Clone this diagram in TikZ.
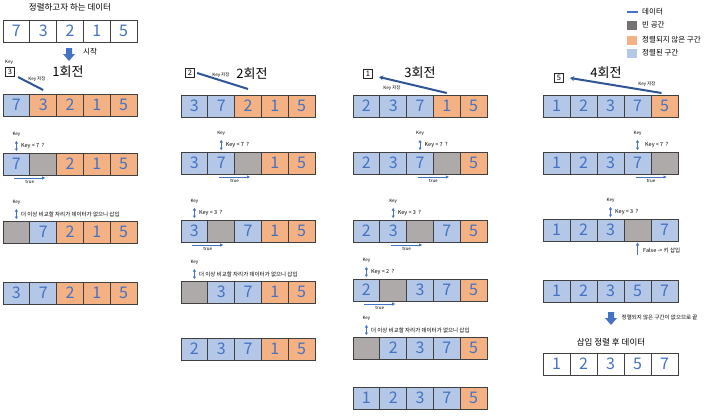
\documentclass[tikz,border=0pt]{standalone}
\usepackage{fontspec}
\setmainfont{Noto Sans CJK KR}
\usetikzlibrary{arrows.meta,calc}
\definecolor{cb}{HTML}{B4C7E7}
\definecolor{co}{HTML}{F4B183}
\definecolor{cg}{HTML}{AEAAAA}
\definecolor{cw}{HTML}{FFFFFF}
\definecolor{numblue}{HTML}{4472C4}
\definecolor{darkline}{HTML}{2F5597}
\definecolor{leggray}{HTML}{767171}
\tikzset{
  cell/.style={draw=black!75, line width=0.9pt, inner sep=0pt, outer sep=0pt,
    minimum height=22pt, anchor=north west, text=numblue,
    font=\fontsize{16}{16}\selectfont},
  keybox/.style={draw=black!85, line width=0.7pt, minimum size=9.5pt, inner sep=0pt,
    font=\fontsize{7.5}{7.5}\selectfont},
  tinylbl/.style={font=\fontsize{4.5}{5}\selectfont, inner sep=0.5pt},
  smalllbl/.style={font=\fontsize{5.5}{6}\selectfont, inner sep=0.5pt},
  roundlbl/.style={font=\fontsize{13}{13}\selectfont, inner sep=0pt},
  headlbl/.style={font=\fontsize{8.5}{9}\selectfont, inner sep=0pt},
  leglbl/.style={font=\fontsize{7.5}{8}\selectfont, inner sep=0pt, anchor=west},
  legsq/.style={minimum width=10pt, minimum height=9pt, inner sep=0pt},
  keyline/.style={draw=darkline, line width=2pt},
  keyarrow/.style={keyline, -{Stealth[length=4pt,width=5pt]}},
  thinarrow/.style={draw=numblue, line width=0.7pt, -{Triangle[length=3pt,width=3pt]}},
  dblarrow/.style={draw=numblue, line width=0.7pt,
    {Triangle[length=2.5pt,width=3pt]}-{Triangle[length=2.5pt,width=3pt]}},
}
% row of five cells: name, x0, ytop, width, spec
\newcommand\datarow[5]{%
  \foreach \cellcol/\celltxt [count=\i] in {#5}{
    \node[cell, fill=\cellcol, minimum width=#4pt] (#1-\i) at ({#2+(\i-1)*#4}, #3) {\celltxt};
  }%
}
% key comparison arrow above a cell: id, cell, text
\newcommand\keyq[3]{%
  \coordinate (#1lo) at ([yshift=2pt]#2.north);
  \coordinate (#1hi) at ([yshift=12pt]#2.north);
  \draw[dblarrow] (#1lo) -- (#1hi);
  \node[tinylbl, anchor=south] (#1key) at ([yshift=4pt]#1hi) {Key};
  \node[smalllbl, anchor=west] (#1txt) at ([xshift=4pt,yshift=7pt]#2.north) {#3};
}
% "true" arrow below two cells: id, cellA, cellB
\newcommand\truearr[3]{%
  \coordinate (#1s) at ([xshift=-2pt,yshift=-3pt]#2.south);
  \coordinate (#1e) at ([xshift=2pt,yshift=-3pt]#3.south);
  \draw[thinarrow] (#1s) -- (#1e);
  \node[tinylbl, anchor=north] (#1lbl) at ([yshift=-1.5pt]$(#1s)!0.5!(#1e)$) {true};
}
% fat downward arrow: x centre, y top
\newcommand\fatdown[2]{%
  \fill[numblue] ({#1-3},#2) -- ({#1+3},#2) -- ({#1+3},{#2+6}) -- ({#1+6},{#2+6})
    -- (#1,{#2+13}) -- ({#1-6},{#2+6}) -- ({#1-3},{#2+6}) -- cycle;
}
\newcommand\gap{\phantom{0}}
\begin{document}
\begin{tikzpicture}[x=1pt,y=-1pt]
\useasboundingbox (0,0) rectangle (720,415);
\fill[white] (0,0) rectangle (720,415);

% ---------- top data ----------
\node[headlbl] (title) at (70,7) {정렬하고자 하는 데이터};
\datarow{top}{3}{20}{26.8}{cw/7,cw/3,cw/2,cw/1,cw/5}
\fatdown{69}{48}
\node[font=\fontsize{7.5}{8}\selectfont, inner sep=0pt] (start) at (90,52) {시작};

% ---------- legend ----------
\draw[draw=numblue, line width=1.6pt] (627,12) -- (638,12);
\node[leglbl] (lg0) at (642,12) {데이터};
\node[legsq, fill=leggray] (sq1) at (632,25) {};
\node[leglbl] (lg1) at (642,25) {빈 공간};
\node[legsq, fill=co] (sq2) at (632,40) {};
\node[leglbl] (lg2) at (642,40) {정렬되지 않은 구간};
\node[legsq, fill=cb] (sq3) at (632,53) {};
\node[leglbl] (lg3) at (642,53) {정렬된 구간};

% ---------- column 1 ----------
\node[roundlbl] (rd1) at (68,72) {1회전};
\node[tinylbl] (kb1lbl) at (9,62) {Key};
\node[keybox] (kb1) at (10,72) {3};
\datarow{c1a}{3}{94}{26.8}{cb/7,co/3,co/2,co/1,co/5}
\coordinate (kl1s) at ([xshift=3pt]kb1.south east);
\coordinate (kl1e) at ([yshift=4pt]c1a-2.north);
\draw[keyline] (kl1s) -- (kl1e);
\node[tinylbl] (ks1) at (37,79) {Key 저장};

\datarow{c1b}{3}{153}{26.8}{cb/7,cg/\gap,co/2,co/1,co/5}
\keyq{q1b}{c1b-1}{Key < 7 \ ?}
\truearr{t1b}{c1b-1}{c1b-2}

\datarow{c1c}{3}{221}{26.8}{cg/\gap,cb/7,co/2,co/1,co/5}
\keyq{q1c}{c1c-1}{더 이상 비교할 자리가 데이터가 없으니 삽입}

\datarow{c1d}{3}{282}{26.8}{cb/3,cb/7,co/2,co/1,co/5}

% ---------- column 2 ----------
\node[roundlbl] (rd2) at (252,74) {2회전};
\node[keybox] (kb2) at (190,73) {2};
\datarow{c2a}{181}{95}{26.8}{cb/3,cb/7,co/2,co/1,co/5}
\coordinate (kl2s) at ([xshift=2pt]kb2.east);
\coordinate (kl2e) at ([yshift=6pt]c2a-3.north);
\draw[keyline] (kl2s) -- (kl2e);
\node[tinylbl] (ks2) at (221,75) {Key 저장};

\datarow{c2b}{181}{152}{26.8}{cb/3,cb/7,cg/\gap,co/1,co/5}
\keyq{q2b}{c2b-2}{Key < 7 \ ?}
\truearr{t2b}{c2b-2}{c2b-3}

\datarow{c2c}{181}{220}{26.8}{cb/3,cg/\gap,cb/7,co/1,co/5}
\keyq{q2c}{c2c-1}{Key < 3 \ ?}
\truearr{t2c}{c2c-1}{c2c-2}

\datarow{c2d}{181}{281}{26.8}{cg/\gap,cb/3,cb/7,co/1,co/5}
\keyq{q2d}{c2d-1}{더 이상 비교할 자리가 데이터가 없으니 삽입}

\datarow{c2e}{181}{338}{26.8}{cb/2,cb/3,cb/7,co/1,co/5}

% ---------- column 3 ----------
\node[roundlbl] (rd3) at (420,73) {3회전};
\node[keybox] (kb3) at (368,74) {1};
\datarow{c3a}{353}{95}{26.8}{cb/2,cb/3,cb/7,co/1,co/5}
\coordinate (kl3s) at ([yshift=2pt]c3a-4.north);
\coordinate (kl3e) at ([xshift=6pt,yshift=-3pt]kb3.east);
\draw[keyarrow] (kl3s) -- (kl3e);
\node[tinylbl] (ks3) at (392,88) {Key 저장};

\datarow{c3b}{353}{152}{26.8}{cb/2,cb/3,cb/7,cg/\gap,co/5}
\keyq{q3b}{c3b-3}{Key < 7 \ ?}
\truearr{t3b}{c3b-3}{c3b-4}

\datarow{c3c}{353}{220}{26.8}{cb/2,cb/3,cg/\gap,cb/7,co/5}
\keyq{q3c}{c3c-2}{Key < 3 \ ?}
\truearr{t3c}{c3c-2}{c3c-3}

\datarow{c3d}{353}{279}{26.8}{cb/2,cg/\gap,cb/3,cb/7,co/5}
\keyq{q3d}{c3d-1}{Key < 2 \ ?}
\truearr{t3d}{c3d-1}{c3d-2}

\datarow{c3e}{353}{337}{26.8}{cg/\gap,cb/2,cb/3,cb/7,co/5}
\keyq{q3e}{c3e-1}{더 이상 비교할 자리가 데이터가 없으니 삽입}

\datarow{c3f}{353}{387}{26.8}{cb/1,cb/2,cb/3,cb/7,co/5}

% ---------- column 4 ----------
\node[roundlbl] (rd4) at (606,73) {4회전};
\node[keybox] (kb4) at (559,78) {5};
\datarow{c4a}{543}{95}{27}{cb/1,cb/2,cb/3,cb/7,co/5}
\coordinate (kl4s) at ([xshift=-3pt,yshift=2pt]c4a-5.north);
\coordinate (kl4e) at ([xshift=6pt]kb4.east);
\draw[keyarrow] (kl4s) -- (kl4e);
\node[tinylbl] (ks4) at (647,84) {Key 저장};

\datarow{c4b}{543}{152}{27}{cb/1,cb/2,cb/3,cb/7,cg/\gap}
\keyq{q4b}{c4b-4}{\hspace{3pt}Key < 7 \ ?}
\truearr{t4b}{c4b-4}{c4b-5}

\datarow{c4c}{543}{219}{27}{cb/1,cb/2,cb/3,cg/\gap,cb/7}
\keyq{q4c}{c4c-3}{Key < 3 \ ?}
\coordinate (fs) at ([yshift=-14pt]c4c-4.south);
\coordinate (fe) at ([yshift=-1.5pt]c4c-4.south);
\draw[thinarrow] (fs) -- (fe);
\node[smalllbl, anchor=west] (flbl) at ([xshift=5pt,yshift=-9pt]c4c-4.south) {False -> 키 삽입};

\datarow{c4d}{543}{280}{27}{cb/1,cb/2,cb/3,cb/5,cb/7}
\fatdown{611}{312}
\node[smalllbl, anchor=west] (endlbl) at (621,317) {정렬되지 않은 구간이 없으므로 끝};
\node[headlbl] (result) at (611,342) {삽입 정렬 후 데이터};
\datarow{fin}{543}{353}{27}{cw/1,cw/2,cw/3,cw/5,cw/7}
\end{tikzpicture}
\end{document}
